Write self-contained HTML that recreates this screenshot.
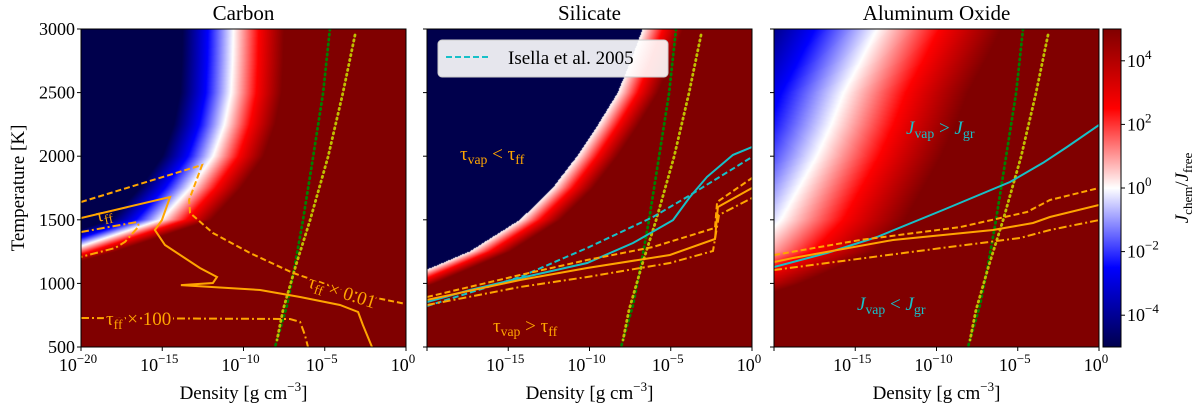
<!DOCTYPE html>
<html><head><meta charset="utf-8">
<style>
html,body{margin:0;padding:0;background:#fff;width:1200px;height:407px;overflow:hidden}
#wrap{position:relative;width:1200px;height:407px}
canvas{position:absolute;top:29px}
svg{position:absolute;left:0;top:0}
text{font-family:"Liberation Serif",serif;fill:#000}
</style></head><body>
<div id="wrap">
<canvas id="hm0" width="325" height="318" style="left:81px"></canvas>
<canvas id="hm1" width="325" height="318" style="left:427px"></canvas>
<canvas id="hm2" width="325" height="318" style="left:774px"></canvas>
<div style="position:absolute;left:1103px;top:29px;width:18px;height:318px;background:linear-gradient(to bottom,#800000 0%,#ff0000 25%,#ffffff 50%,#0000ff 75%,#00004d 100%)"></div>
<svg id="svg" width="1200" height="407"></svg>
</div>
<script>
// ---- data ----
const tempGrid=[500,750,1000,1250,1500,1750,2000,2250,2500,2750,3000];
const carbonRidge=[-40,-35,-28,-21,-15.1,-13.3,-11.9,-11.2,-10.8,-10.7,-10.65];
const silicateRidge=[-35,-28,-22,-17.4,-14.3,-12.3,-10.8,-9.5,-8.3,-7.5,-6.77];
const aluminaRidge=[-40,-32,-26,-21.5,-19.6,-18.5,-17.4,-16.5,-15.75,-14.7,-13.7];
const xTicks=[-20,-15,-10,-5,0];
const yTicks=[500,1000,1500,2000,2500,3000];
const cbTicks=[4,2,0,-2,-4];
const greenLR=[-4.68,-5.1,-5.72,-6.34,-6.83,-7.32,-8.06];
const greenT=[3000,2497,1994,1498,1145,830,500];
const yellowLR=[-3.14,-3.88,-4.8,-5.9,-6.77,-7.57,-7.94];
const yellowT=[2953,2497,1994,1498,1145,791,555];
// carbon
const cDashLR=[-20,-12.55,-13.35,-13.29,-11.88,-9.6,-6.95,-4.5,-2,0];
const cDashT=[1640,1931,1656,1554,1396,1239,1082,975,890,838];
const cSolidLR=[-20,-14.52,-15.02,-15.45,-14.83,-12.68,-11.63,-11.88,-13.85,-8.98,-6.52,-4.06,-2.95,-2.65,-2.09];
const cSolidT=[1514,1679,1498,1420,1302,1121,1050,1003,987,948,893,830,775,673,500];
const cDDupLR=[-20,-16.55,-16.43,-17.29,-17.9,-20];
const cDDupT=[1404,1483,1451,1326,1278,1208];
const cDDloLR=[-20,-7.14,-6.52,-6.22,-6.03];
const cDDloT=[728,720,697,594,500];
// silicate
const sCyanLR=[-20,-17.35,-14.28,-10.15,-7.32,-4.86,-3.82,-2.77,-1.17,0];
const sCyanT=[854,948,1042,1160,1318,1498,1679,1837,2010,2072];
const sIsellaLR=[-20,-14.28,-10.15,-6.09,-4,0];
const sIsellaT=[822,1050,1278,1522,1679,1994];
const sDashLR=[-20,-14.28,-10.15,-6.09,-2.28,-2.15,0];
const sDashT=[893,1066,1184,1286,1436,1640,1829];
const sSolidLR=[-20,-14.28,-10.15,-5.05,-2.28,-2.1,0];
const sSolidT=[870,1027,1121,1223,1349,1601,1750];
const sDDLR=[-20,-14.28,-10.15,-5.05,-2.4,-2.03,0];
const sDDT=[830,972,1050,1160,1255,1538,1671];
// alumina
const aCyanLR=[-20,-16.74,-13.66,-9.6,-5.48,-3.45,-1.97,0];
const aCyanT=[1129,1239,1365,1577,1797,1947,2072,2245];
const aDashLR=[-20,-14.7,-8.55,-4.43,-3.02,0];
const aDashT=[1223,1341,1443,1561,1656,1750];
const aSolidLR=[-20,-18.83,-12.68,-6.52,-4.06,-3.02,0];
const aSolidT=[1168,1200,1341,1420,1475,1522,1616];
const aDDLR=[-20,-16.74,-10.58,-4.86,-3.02,0];
const aDDT=[1105,1160,1263,1357,1420,1498];

// ---- layout ----
const X0=[81,427,774], PW=325, TOP=29, BOT=347;
function xs(p,lr){return X0[p]+(lr+20)*PW/20;}
function ys(T){return BOT-(T-500)*(BOT-TOP)/2500;}
function interp(xa,ya,x){if(x<=xa[0])return ya[0];for(let i=1;i<xa.length;i++){if(x<=xa[i]){const f=(x-xa[i-1])/(xa[i]-xa[i-1]);return ya[i-1]+f*(ya[i]-ya[i-1]);}}return ya[ya.length-1];}
function seismic(v){let t=Math.max(0,Math.min(1,(v+5)/10));let r,g,b;
 if(t<0.25){const f=t/0.25;r=0;g=0;b=0.3+0.7*f;}
 else if(t<0.5){const f=(t-0.25)/0.25;r=f;g=f;b=1;}
 else if(t<0.75){const f=(t-0.5)/0.25;r=1;g=1-f;b=1-f;}
 else{const f=(t-0.75)/0.25;r=1-0.5*f;g=0;b=0;}
 return [r*255,g*255,b*255];}
function drawHeat(id,ridge,slope,clipNavy){
 const c=document.getElementById(id),ctx=c.getContext('2d'),img=ctx.createImageData(325,318);
 for(let py=0;py<318;py++){const T=500+(317-py)*2500/317;const rg=interp(tempGrid,ridge,T);
  for(let px=0;px<325;px++){const lr=-20+px*20/325;let v=(lr-rg)*slope;if(clipNavy&&lr<rg)v=-10;
   const col=seismic(v),k=(py*325+px)*4;img.data[k]=col[0];img.data[k+1]=col[1];img.data[k+2]=col[2];img.data[k+3]=255;}}
 ctx.putImageData(img,0,0);}
drawHeat('hm0',carbonRidge,1.6,false);
drawHeat('hm1',silicateRidge,2.0,true);
drawHeat('hm2',aluminaRidge,0.65,false);

const NS='http://www.w3.org/2000/svg',svg=document.getElementById('svg');
function el(tag,attrs,parent){const e=document.createElementNS(NS,tag);for(const k in attrs)e.setAttribute(k,attrs[k]);(parent||svg).appendChild(e);return e;}
const defs=el('defs',{});
for(let p=0;p<3;p++){const cp=el('clipPath',{id:'clip'+p},defs);el('rect',{x:X0[p],y:TOP,width:PW,height:BOT-TOP},cp);}
function curve(p,lrA,tA,stroke,dash,w,name){
 const d=lrA.map((lr,i)=>(i?'L':'M')+xs(p,lr).toFixed(1)+','+ys(tA[i]).toFixed(1)).join(' ');
 const e=el('path',{d:d,fill:'none',stroke:stroke,'stroke-width':w,'stroke-dasharray':dash,'clip-path':'url(#clip'+p+')','stroke-linecap':dash.startsWith('1.')?'round':'butt'});
 
 
 return e;}
const OR='#ffa500',CY='#17c0c8';
for(let p=0;p<3;p++){
 curve(p,greenLR,greenT,'#008000','1.2,3.8',2.8,'green-dotted-line');
 curve(p,yellowLR,yellowT,'#bfbf00','1.2,3.8',2.8,'yellow-dotted-line');
}
curve(0,cDashLR,cDashT,OR,'6,3',2,'carbon-tff-0.01-line');
curve(0,cSolidLR,cSolidT,OR,'none',2,'carbon-tff-line');
curve(0,cDDupLR,cDDupT,OR,'8,3,2,3',2,'carbon-tff-100-upper-line');
curve(0,cDDloLR,cDDloT,OR,'8,3,2,3',2,'carbon-tff-100-lower-line');
curve(1,sIsellaLR,sIsellaT,CY,'6,3',2,'silicate-isella-line');
curve(1,sCyanLR,sCyanT,CY,'none',2,'silicate-cyan-line');
curve(1,sDashLR,sDashT,OR,'6,3',2,'silicate-dashed-line');
curve(1,sSolidLR,sSolidT,OR,'none',2,'silicate-solid-line');
curve(1,sDDLR,sDDT,OR,'8,3,2,3',2,'silicate-dashdot-line');
curve(2,aCyanLR,aCyanT,CY,'none',2,'alumina-cyan-line');
curve(2,aDashLR,aDashT,OR,'6,3',2,'alumina-dashed-line');
curve(2,aSolidLR,aSolidT,OR,'none',2,'alumina-solid-line');
curve(2,aDDLR,aDDT,OR,'8,3,2,3',2,'alumina-dashdot-line');

// frames, ticks, labels
const titles=['Carbon','Silicate','Aluminum Oxide'];
for(let p=0;p<3;p++){
 const f=el('rect',{x:X0[p],y:TOP,width:PW,height:BOT-TOP,fill:'none',stroke:'#000','stroke-width':1});
 
 
 const t=el('text',{x:X0[p]+PW/2,y:20,'text-anchor':'middle','font-size':21});t.textContent=titles[p];
 
 
 xTicks.forEach(v=>{const x=xs(p,v);el('line',{x1:x,x2:x,y1:BOT,y2:BOT+4,stroke:'#000'});
  if(p>0&&v===-20)return;
  const tx=el('text',{x:x-3,y:BOT+24,'text-anchor':'middle','font-size':18});
  
  
  el('tspan',{},tx).textContent='10';
  el('tspan',{dy:-8,'font-size':13},tx).textContent=v===0?'0':'\u2212'+(-v);});
 yTicks.forEach(v=>{const y=ys(v);el('line',{x1:X0[p]-4,x2:X0[p],y1:y,y2:y,stroke:'#000'});
  if(p===0){const ty=el('text',{x:X0[p]-6,y:y+6,'text-anchor':'end','font-size':18});ty.textContent=v;
   
   }});
 const xl=el('text',{x:X0[p]+PW/2,y:399,'text-anchor':'middle','font-size':19});
 
 
 el('tspan',{},xl).textContent='Density [g cm';
 el('tspan',{dy:-8,'font-size':13},xl).textContent='\u22123';
 el('tspan',{dy:8},xl).textContent=']';
}
const yl=el('text',{x:0,y:0,'text-anchor':'middle','font-size':19,transform:'translate(24,188) rotate(-90)'});
yl.textContent='Temperature [K]';


// colorbar
el('rect',{x:1103,y:TOP,width:18,height:BOT-TOP,fill:'none',stroke:'#000'});
cbTicks.forEach(v=>{const y=TOP+(5-v)*(BOT-TOP)/10;el('line',{x1:1121,x2:1125,y1:y,y2:y,stroke:'#000'});
 const t=el('text',{x:1127,y:y+6,'font-size':18});
 
 
 el('tspan',{},t).textContent='10';el('tspan',{dy:-8,'font-size':13},t).textContent=v<0?'\u2212'+(-v):String(v);});
const cbl=el('text',{x:0,y:0,'text-anchor':'middle','font-size':19,transform:'translate(1188,188) rotate(-90)'});


el('tspan',{'font-style':'italic'},cbl).textContent='J';el('tspan',{dy:4,'font-size':13},cbl).textContent='chem';
el('tspan',{dy:-4},cbl).textContent='/';el('tspan',{'font-style':'italic'},cbl).textContent='J';el('tspan',{dy:4,'font-size':13},cbl).textContent='free';

// annotations
function lab(x,y,main,sub,rest,color,size,name,rot,italicMain){
 const t=el('text',{x:x,y:y,'font-size':size,fill:color,stroke:'#800000','stroke-width':5,'paint-order':'stroke',transform:rot?('rotate('+rot+' '+x+' '+y+')'):''});
 t.style.fill=color;
 
 
 el('tspan',{'font-style':italicMain?'italic':'normal'},t).textContent=main;
 el('tspan',{dy:4,'font-size':size*0.72},t).textContent=sub;
 if(rest)el('tspan',{dy:-4},t).textContent=rest;
 return t;}
const lt1=lab(97,222,'\u03c4','ff','',OR,19,'label-tff',-12,false);lt1.setAttribute('stroke','none');
lab(106,325,'\u03c4','ff',' \u00d7 100',OR,19,'label-tff-x100',0,false);
lab(307,287,'\u03c4','ff',' \u00d7 0.01',OR,19,'label-tff-x001',18,false);
const s1=lab(460,160,'\u03c4','vap','',OR,19,'label-tvap-lt-tff',0,false);s1.setAttribute('stroke','none');
el('tspan',{dy:-4},s1).textContent=' < \u03c4';el('tspan',{dy:4,'font-size':14},s1).textContent='ff';
const s2=lab(493,332,'\u03c4','vap','',OR,19,'label-tvap-gt-tff',0,false);
el('tspan',{dy:-4},s2).textContent=' > \u03c4';el('tspan',{dy:4,'font-size':14},s2).textContent='ff';
const a1=lab(906,134,'J','vap','',CY,19,'label-jvap-gt-jgr',0,true);a1.setAttribute('stroke','none');
el('tspan',{dy:-4},a1).textContent=' > ';el('tspan',{'font-style':'italic'},a1).textContent='J';el('tspan',{dy:4,'font-size':14},a1).textContent='gr';
const a2=lab(857,310,'J','vap','',CY,19,'label-jvap-lt-jgr',0,true);a2.setAttribute('stroke','none');
el('tspan',{dy:-4},a2).textContent=' < ';el('tspan',{'font-style':'italic'},a2).textContent='J';el('tspan',{dy:4,'font-size':14},a2).textContent='gr';

// legend
const lg=el('g',{});


el('rect',{x:438,y:40,width:230,height:37,rx:4,fill:'#fff','fill-opacity':0.9,stroke:'#ccc'},lg);
el('line',{x1:446,x2:490,y1:57,y2:57,stroke:CY,'stroke-width':2,'stroke-dasharray':'6,3'},lg);
const lt=el('text',{x:508,y:64,'font-size':19},lg);lt.textContent='Isella et al. 2005';


</script>
</body></html>
